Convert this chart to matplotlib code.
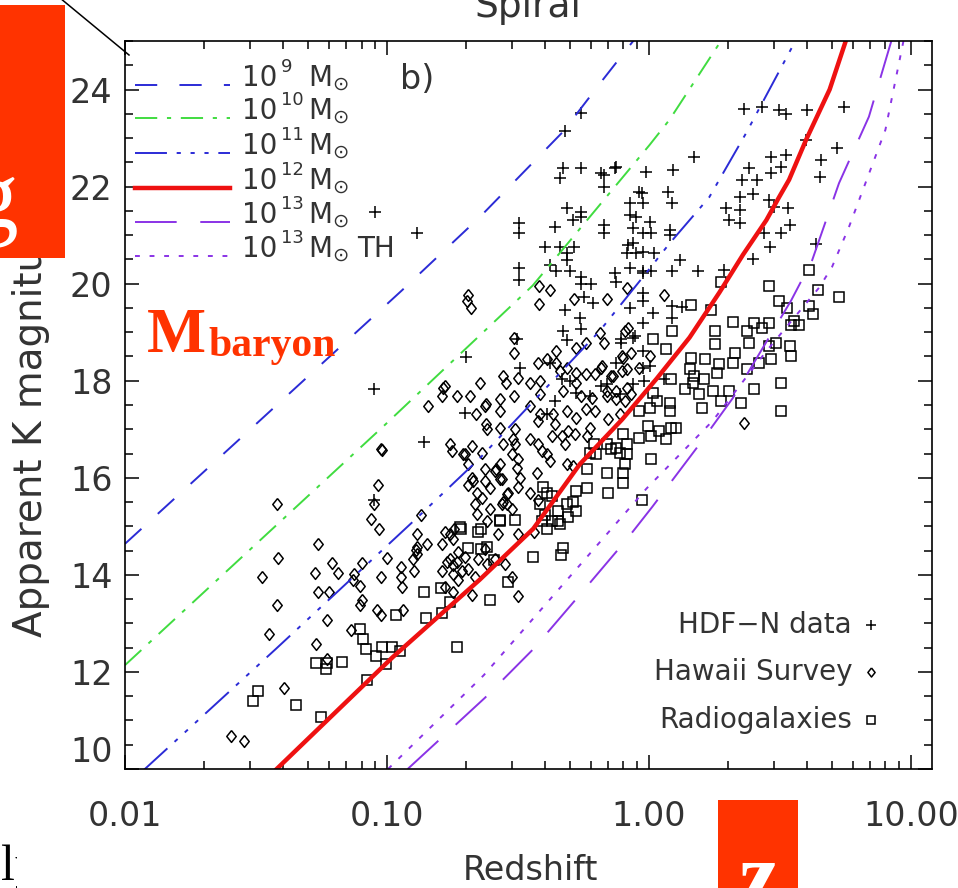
import numpy as np
import matplotlib
matplotlib.use("Agg")
import matplotlib.pyplot as plt
from matplotlib.lines import Line2D
from matplotlib.patches import Rectangle
from matplotlib.ticker import LogLocator, MultipleLocator, NullFormatter

plt.rcParams['font.family'] = ['DejaVu Sans']
plt.rcParams['mathtext.fontset'] = 'dejavusans'
plt.rcParams['lines.scale_dashes'] = False

# ---- model curves (redshift, apparent K) ----
z_m9 = [0.01, 0.0282, 0.114, 0.226, 0.47, 0.667, 0.88]
k_m9 = [14.64, 16.86, 19.86, 21.37, 23.13, 24.2, 25.03]
z_m10 = [0.01, 0.0969, 0.36, 1.007, 1.2, 1.9]
k_m10 = [12.14, 17.06, 19.96, 22.86, 23.38, 25.03]
z_m11 = [0.0118, 0.0376, 0.1318, 0.226, 0.65, 0.98, 1.2, 1.7, 2.35, 3.65]
k_m11 = [9.98, 12.47, 15.2, 16.4, 19.03, 20.23, 20.83, 21.78, 23.1, 25.03]
z_m12 = [0.0376, 0.105, 0.226, 0.362, 0.545, 0.79, 1.07, 1.43, 1.86, 2.29, 2.81, 3.14, 3.43, 3.98, 4.9, 5.67]
k_m12 = [9.98, 12.3, 13.9, 14.95, 16.28, 17.2, 18.04, 18.89, 19.82, 20.6, 21.31, 21.78, 22.14, 22.96, 24.0, 25.03]
z_m13 = [0.12, 0.237, 0.362, 0.545, 0.82, 1.03, 1.54, 2.09, 3.49, 4.2, 5.32, 6.92, 8.46]
k_m13 = [10.0, 11.47, 12.47, 13.59, 14.72, 15.4, 16.65, 17.64, 19.65, 20.48, 22.07, 23.44, 25.03]
z_m13th = [0.101, 0.234, 0.545, 0.98, 1.75, 2.8, 4.47, 5.0, 5.8, 6.5, 8.0, 9.4]
k_m13th = [10.0, 11.93, 14.2, 15.78, 17.17, 18.6, 19.92, 20.34, 21.16, 21.87, 23.17, 25.03]

# ---- HDF-N data (+) ----
hdf_z = [2.31, 2.71, 3.15, 3.34, 4.02, 5.56, 3.98, 5.24, 2.93, 3.34, 3.20, 2.93, 4.55, 4.51, 2.42, 2.27,
         2.59, 2.50, 2.22, 2.22, 1.97, 2.03, 2.22, 2.88, 3.01, 3.40, 3.46, 3.20, 2.76, 2.91, 4.35, 2.50,
         1.93, 1.49, 1.24, 1.18, 1.23, 0.975, 0.747, 0.677, 0.677, 0.94, 0.946, 0.844, 0.844, 0.897, 1.006, 0.677,
         0.677, 0.867, 0.946, 1.02, 1.20, 1.20, 0.867, 0.822, 0.897, 0.946, 1.05, 0.844, 0.946, 1.02,
         1.23, 1.31, 1.54, 0.74, 0.75, 0.946, 0.946, 0.946, 0.844, 1.034, 1.23, 1.34, 1.23, 0.946,
         0.882, 0.78, 0.946, 0.75, 1.006, 0.962, 1.14, 0.867, 0.553, 0.477, 0.469, 0.553, 0.457, 0.657,
         0.74, 0.92, 0.090, 0.130, 0.485, 0.553, 0.512, 0.549, 0.437, 0.319, 0.319, 0.40, 0.457, 0.485,
         0.516, 0.485, 0.444, 0.499, 0.419, 0.319, 0.319, 0.553, 0.599, 0.553, 0.829, 0.477, 0.469, 0.545,
         0.566, 0.61, 0.553, 0.78, 0.867, 0.313, 0.322, 0.20, 0.0889, 0.199, 0.485, 0.657, 0.594, 0.528,
         0.465, 0.437, 0.407, 0.773, 0.139, 0.0889, 0.69, 0.946, 0.419, 0.499]
hdf_k = [23.59, 23.65, 23.57, 23.50, 23.57, 23.63, 22.96, 22.80, 22.61, 22.65, 22.41, 22.28, 22.55, 22.20, 22.39, 22.14,
         22.14, 21.85, 21.79, 21.52, 21.56, 21.31, 21.25, 21.72, 21.58, 21.56, 21.21, 21.04, 21.04, 20.75, 20.81, 20.50,
         20.29, 22.61, 22.34, 21.89, 21.66, 22.30, 22.41, 22.24, 21.99, 21.87, 21.66, 21.66, 21.41, 21.37, 21.27, 21.21,
         21.04, 21.14, 21.04, 21.04, 21.10, 21.00, 20.83, 20.63, 20.63, 20.65, 20.63, 20.32, 20.27, 20.27,
         20.27, 20.48, 20.27, 20.21, 20.03, 20.21, 19.80, 19.65, 19.49, 19.40, 19.55, 19.51, 19.30, 19.18,
         18.93, 18.78, 18.62, 18.37, 18.31, 18.00, 18.04, 17.94, 23.52, 23.15, 22.39, 22.39, 22.18, 22.28,
         22.39, 21.89, 21.47, 21.04, 21.56, 21.47, 21.31, 21.37, 21.16, 21.25, 21.04, 20.75, 20.75, 20.63,
         20.75, 20.48, 20.27, 20.27, 20.38, 20.32, 20.07, 20.13, 20.00, 20.00, 20.79, 19.45, 19.03, 19.30,
         19.72, 19.61, 19.07, 18.87, 18.89, 18.87, 18.27, 18.49, 17.83, 17.33, 18.83, 17.89, 17.69, 17.75,
         18.04, 17.58, 17.31, 17.73, 16.73, 15.55, 17.94, 18.27, 18.37, 18.00]

# ---- Hawaii Survey (diamonds) ----
hawaii_z = [0.096, 0.174, 0.177, 0.211, 0.199, 0.204, 0.211, 0.204, 0.221, 0.217, 0.221, 0.0927, 0.0889, 0.0872,
            0.0935, 0.0382, 0.135, 0.130, 0.0547, 0.0385, 0.0332, 0.0533, 0.0619, 0.0652, 0.0751, 0.0805,
            0.0791, 0.0744, 0.0547, 0.0603, 0.0382, 0.0805, 0.0791, 0.0951, 0.1002, 0.0919, 0.0951, 0.0589,
            0.0356, 0.0731, 0.0538, 0.0589, 0.0403, 0.0255, 0.0284, 0.113, 0.113, 0.114, 0.115, 0.126, 0.129,
            0.130, 0.142, 0.127, 0.130, 0.162, 0.174, 0.179, 0.181, 0.167, 0.162, 0.170, 0.174, 0.179, 0.185,
            0.179, 0.187, 0.199, 0.194, 0.204, 0.217, 0.187, 0.167, 0.211, 0.222, 0.179, 0.241, 0.277, 0.303,
            0.308, 0.300, 0.316, 0.313, 0.270, 0.258, 0.236, 0.275, 0.247, 0.236, 0.231, 0.289, 0.322, 0.316,
            0.351, 0.376, 0.390, 0.407, 0.419, 0.373, 0.351, 0.376, 0.277, 0.287, 0.300, 0.247, 0.265, 0.316,
            0.364, 0.236, 0.258, 0.241, 0.282, 0.300, 0.316, 0.437, 0.428, 0.465, 0.490, 0.477, 0.524, 0.579,
            0.594, 0.485, 0.512, 2.31, 0.690, 0.822, 0.808, 0.677, 0.787, 0.851, 1.006, 0.665, 0.727, 0.822,
            0.822, 0.690, 0.750, 1.146, 0.204, 0.202, 0.209, 0.380, 0.419, 0.380, 0.516, 0.829, 0.649, 0.306,
            0.306, 0.528, 0.574, 0.444, 0.444, 0.376, 0.407, 0.457, 0.485, 0.528, 0.528, 0.574, 0.625, 0.657,
            0.714, 0.787, 0.800, 0.913, 0.285, 0.316, 0.277, 0.351, 0.384, 0.227, 0.167, 0.162, 0.185, 0.208,
            0.143, 0.219, 0.239, 0.270, 0.306, 0.351, 0.384, 0.469, 0.553, 0.604, 0.690, 0.746, 0.808, 0.858,
            0.574, 0.625, 0.239, 0.270, 0.376, 0.384, 0.432, 0.485, 0.528, 0.696, 0.773, 0.163, 0.236, 0.270,
            0.195, 0.231, 0.262, 0.270, 0.213, 0.275, 0.287, 0.308, 0.241, 0.0951]
hawaii_k = [16.57, 16.69, 16.55, 16.65, 16.49, 16.28, 15.99, 15.86, 15.68, 15.47, 15.26, 15.86, 15.45, 15.16,
            14.95, 15.45, 15.24, 14.85, 14.64, 14.35, 13.96, 14.04, 14.25, 14.04, 14.02, 14.25,
            13.77, 13.90, 13.65, 13.65, 13.38, 13.48, 13.38, 13.96, 14.35, 13.28, 13.17, 13.07,
            12.78, 12.86, 12.57, 12.26, 11.66, 10.67, 10.57, 14.17, 13.96, 13.76, 13.28, 14.33, 14.52,
            14.58, 14.64, 14.07, 14.42, 14.64, 14.85, 14.73, 14.95, 14.89, 14.07, 14.27, 14.33, 14.21, 14.27,
            14.02, 14.48, 14.37, 14.07, 14.13, 13.96, 13.90, 13.76, 13.59, 14.33, 13.65, 17.00, 16.69, 16.80,
            17.00, 16.49, 16.38, 16.20, 16.28, 16.13, 16.18, 15.97, 15.78, 15.93, 15.58, 15.68, 15.99, 15.82,
            16.80, 16.69, 16.55, 16.49, 16.34, 16.09, 15.68, 15.55, 15.51, 15.45, 15.35, 15.35, 14.85, 14.85,
            14.89, 14.54, 14.33, 14.23, 14.23, 13.96, 13.57, 17.11, 16.86, 16.86, 16.96, 16.69, 16.90, 16.86,
            17.02, 16.28, 16.24, 17.13, 19.69, 19.92, 19.03, 18.78, 18.51, 18.58, 18.51, 18.31, 18.10, 18.25,
            17.85, 17.79, 17.62, 19.76, 19.76, 19.65, 19.49, 19.96, 19.86, 19.59, 19.69, 19.09, 18.99, 18.89,
            18.58, 18.68, 18.78, 18.62, 18.37, 18.37, 18.45, 18.20, 18.27, 18.16, 17.96, 18.14, 18.14, 18.27,
            18.10, 18.20, 18.47, 18.27, 17.96, 18.06, 18.10, 17.96, 18.00, 17.96, 17.89, 17.69, 17.69, 17.69,
            17.48, 17.31, 17.52, 17.38, 17.69, 17.48, 17.73, 17.79, 17.69, 17.65, 17.69, 17.79, 17.58, 17.73,
            17.42, 17.38, 17.11, 17.02, 17.17, 17.31, 17.31, 17.38, 17.23, 17.21, 17.31, 17.85, 17.48, 17.62,
            16.49, 16.51, 16.18, 15.97, 15.93, 15.47, 15.66, 16.69, 15.10, 16.59]

# ---- Radiogalaxies (squares) ----
radio_z = [0.192, 0.204, 0.222, 0.138, 0.161, 0.174, 0.162, 0.141, 0.108, 0.0791, 0.0812, 0.0834, 0.0911,
           0.0960, 0.1047, 0.1124, 0.0994, 0.185, 0.0538, 0.0590, 0.0584, 0.0675, 0.0841, 0.0323, 0.0309,
           0.0451, 0.0562, 0.394, 0.407, 0.426, 0.384, 0.401, 0.426, 0.449, 0.485, 0.512, 0.528, 0.490, 0.449,
           0.407, 0.390, 0.457, 0.579, 0.528, 0.579, 0.594, 0.631, 0.620, 0.690, 0.696, 0.690, 0.720, 0.75,
           0.773, 0.822, 0.794, 0.822, 0.808, 0.794, 0.794, 0.913, 0.99, 1.02, 1.02, 1.098, 1.16, 1.22, 1.27,
           0.94, 0.362, 0.469, 0.461, 0.270, 0.229, 0.289, 0.247, 0.229, 2.88, 4.09, 4.43, 5.3, 3.145, 3.37,
           4.09, 4.24, 1.89, 1.73, 1.45, 1.23, 1.79, 2.09, 2.52, 2.36, 2.71, 2.88, 3.49, 3.75, 3.59, 1.034,
           1.16, 1.79, 2.42, 2.14, 2.88, 3.07, 3.46, 3.49, 2.93, 2.64, 2.36, 2.09, 1.86, 1.64, 1.45, 1.43,
           1.49, 1.47, 1.62, 1.82, 3.2, 3.2, 2.52, 2.25, 2.03, 1.89, 1.76, 1.56, 1.37, 1.21, 1.2, 1.2, 1.07,
           1.006, 0.92, 1.034, 0.19, 0.27, 0.308, 0.241, 0.256, 1.59]
radio_k = [14.95, 14.56, 14.89, 13.65, 13.73, 13.44, 13.21, 13.11, 13.17, 12.88, 12.68, 12.47, 12.33,
           12.51, 12.51, 12.43, 12.16, 12.51, 12.18, 12.18, 12.06, 12.20, 11.83, 11.60, 11.41,
           11.31, 11.08, 15.82, 15.68, 15.62, 15.45, 15.24, 15.10, 15.31, 15.45, 15.51, 15.31, 15.20, 15.10,
           14.95, 15.10, 15.04, 15.78, 15.72, 16.18, 16.51, 16.49, 16.69, 16.09, 15.68, 16.69, 16.59, 16.61,
           16.51, 16.49, 16.90, 16.69, 16.28, 16.09, 15.89, 16.82, 17.07, 16.86, 16.38, 16.96, 16.80, 17.02, 17.02,
           15.55, 14.37, 14.56, 14.40, 15.10, 14.54, 13.86, 13.48, 14.95, 19.96, 20.29, 19.86, 19.72, 19.65, 19.49,
           19.55, 19.38, 20.03, 19.45, 19.57, 19.03, 19.03, 19.20, 19.18, 19.03, 19.09, 19.18, 19.14, 19.14, 19.24, 18.87,
           18.66, 18.76, 18.78, 18.58, 18.72, 18.78, 18.72, 18.51, 18.45, 18.37, 18.25, 18.37, 18.35, 18.45, 18.47, 18.25,
           18.10, 17.96, 18.04, 18.16, 17.96, 17.38, 17.83, 17.54, 17.79, 17.58, 17.79, 17.73, 17.83, 18.04, 17.54, 17.38, 17.58,
           17.44, 17.38, 17.75, 14.99, 15.14, 15.14, 14.58, 14.31, 17.44]

legend_exps = ['9', '10', '11', '12', '13', '13']
legend_extra = ['', '', '', '', '', 'TH']
data_labels = ['HDF\u2212N data', 'Hawaii Survey', 'Radiogalaxies']

BLUE = '#2b2bd6'
GREEN = '#40dc40'
RED = '#ee1111'
PURPLE = '#8a33e6'
TXT = '#333333'
SLIDE_RED = '#ff3300'

# line styles: (color, width, dash pattern in points)
styles = [(BLUE, 1.4, (16, 16)),
          (GREEN, 1.4, (16, 7, 3, 7)),
          (BLUE, 1.4, (23, 7, 3, 7, 3, 7, 3, 7)),
          (RED, 3.2, None),
          (PURPLE, 1.4, (30, 17)),
          (PURPLE, 1.4, (3.5, 7))]
curves = [(z_m9, k_m9), (z_m10, k_m10), (z_m11, k_m11), (z_m12, k_m12), (z_m13, k_m13), (z_m13th, k_m13th)]

W, H = 958, 888
def fx(px):
    return px / W
def fy(py):
    return 1 - py / H

fig = plt.figure(figsize=(W / 100, H / 100), dpi=100)
ax = fig.add_axes([125 / W, (H - 769) / H, 807 / W, 728 / H])

diamond = [(0, 1), (0.8, 0), (0, -1), (-0.8, 0), (0, 1)]
ax.plot(hawaii_z, hawaii_k, linestyle='none', marker=diamond, ms=8.5, mfc='none', mec='black', mew=1.1)
ax.plot(radio_z, radio_k, linestyle='none', marker='s', ms=7, mfc='none', mec='black', mew=1.1)
ax.plot(hdf_z, hdf_k, linestyle='none', marker='+', ms=8, mec='black', mew=1.1)

for (zz, kk), (c, lw, ds) in zip(curves, styles):
    ln, = ax.plot(zz, kk, color=c, lw=lw)
    if ds is not None:
        ln.set_dashes(ds)

ax.set_xscale('log')
ax.set_xlim(0.01, 12.05)
ax.set_ylim(10, 25)
ax.set_xticks([0.01, 0.1, 1, 10])
ax.set_xticklabels(['0.01', '0.10', '1.00', '10.00'])
ax.xaxis.set_minor_locator(LogLocator(base=10, subs=range(2, 10)))
ax.xaxis.set_minor_formatter(NullFormatter())
ax.set_yticks(range(10, 25, 2))
ax.yaxis.set_minor_locator(MultipleLocator(0.5))
ax.tick_params(which='both', direction='in', top=True, right=True, color='black', labelcolor=TXT)
ax.tick_params(which='major', length=10, width=1.1, labelsize=24)
ax.tick_params(which='minor', length=5.5, width=1.1)
ax.tick_params(axis='x', which='major', pad=22)
ax.tick_params(axis='y', which='major', pad=9)
for sp in ax.spines.values():
    sp.set_linewidth(1.2)
ax.get_yticklabels()[0].set_va('bottom')

ax.text(0.13, 24.2, 'b)', fontsize=24, color=TXT, ha='center', va='center')

# upper left legend of model curves
row_y = [85, 118, 153, 188, 222, 256]
for i, ((c, lw, ds), ex, extra) in enumerate(zip(styles, legend_exps, legend_extra)):
    y = row_y[i]
    ln = Line2D([fx(135), fx(230)], [fy(y), fy(y)], transform=fig.transFigure, color=c, lw=lw)
    if ds is not None:
        ln.set_dashes(ds)
    fig.add_artist(ln)
    fig.text(fx(242), fy(y + 1), '10', fontsize=20, color=TXT, va='baseline')
    fig.text(fx(281), fy(y - 13), ex, fontsize=13, color=TXT, va='baseline')
    fig.text(fx(308), fy(y + 1), r'M$_{\odot}$', fontsize=20, color=TXT, va='baseline')
    if extra:
        fig.text(fx(357), fy(y + 1), extra, fontsize=20, color=TXT, va='baseline')

# lower right key for data
key_y = [625, 672, 720]
key_m = ['+', diamond, 's']
key_ms = [7, 6.5, 5.5]
for lab, y, m, ms in zip(data_labels, key_y, key_m, key_ms):
    fig.text(fx(852), fy(y), lab, fontsize=20, color=TXT, ha='right', va='center')
    fig.add_artist(Line2D([fx(871)], [fy(y)], transform=fig.transFigure, linestyle='none',
                          marker=m, ms=ms, mfc='none', mec='black', mew=1.1))

fig.text(fx(528), fy(17), 'Spiral', fontsize=27, color=TXT, ha='center', va='baseline')
fig.text(fx(530), fy(870), 'Redshift', fontsize=24, color=TXT, ha='center', va='center')
fig.text(fx(31), fy(418), 'Apparent K magnitude', fontsize=28, color=TXT, rotation=90,
         ha='center', va='center')

# slide overlays
fig.add_artist(Rectangle((fx(0), fy(258)), 65 / W, 253 / H, transform=fig.transFigure,
                         facecolor=SLIDE_RED, edgecolor='none', zorder=5))
fig.text(fx(19), fy(227), 'g', fontsize=70, color='white', family='Liberation Serif',
         ha='right', va='baseline', zorder=6)
fig.add_artist(Rectangle((fx(718), fy(H)), 80 / W, 88 / H, transform=fig.transFigure,
                         facecolor=SLIDE_RED, edgecolor='none', zorder=5))
fig.text(fx(758), fy(905), 'z', fontsize=65, color='white', family='Liberation Serif',
         weight='bold', ha='center', va='baseline', zorder=6)
fig.text(fx(147), fy(352), 'M', fontsize=45, color=SLIDE_RED, family='Liberation Serif',
         weight='bold', va='baseline', zorder=6)
fig.text(fx(208), fy(356), 'baryon', fontsize=30, color=SLIDE_RED, family='Liberation Serif',
         weight='bold', va='baseline', zorder=6)
fig.add_artist(Line2D([fx(60), fx(129)], [fy(-2), fy(55)], transform=fig.transFigure,
                      color='black', lw=1.1, zorder=6))
fig.text(fx(1), fy(880), 'ly', fontsize=36, color='black', family='Liberation Serif',
         va='baseline', zorder=4)
fig.add_artist(Rectangle((fx(17), fy(H)), 43 / W, 48 / H, transform=fig.transFigure,
                         facecolor='white', edgecolor='none', zorder=5))

fig.savefig('out.png', dpi=100)
